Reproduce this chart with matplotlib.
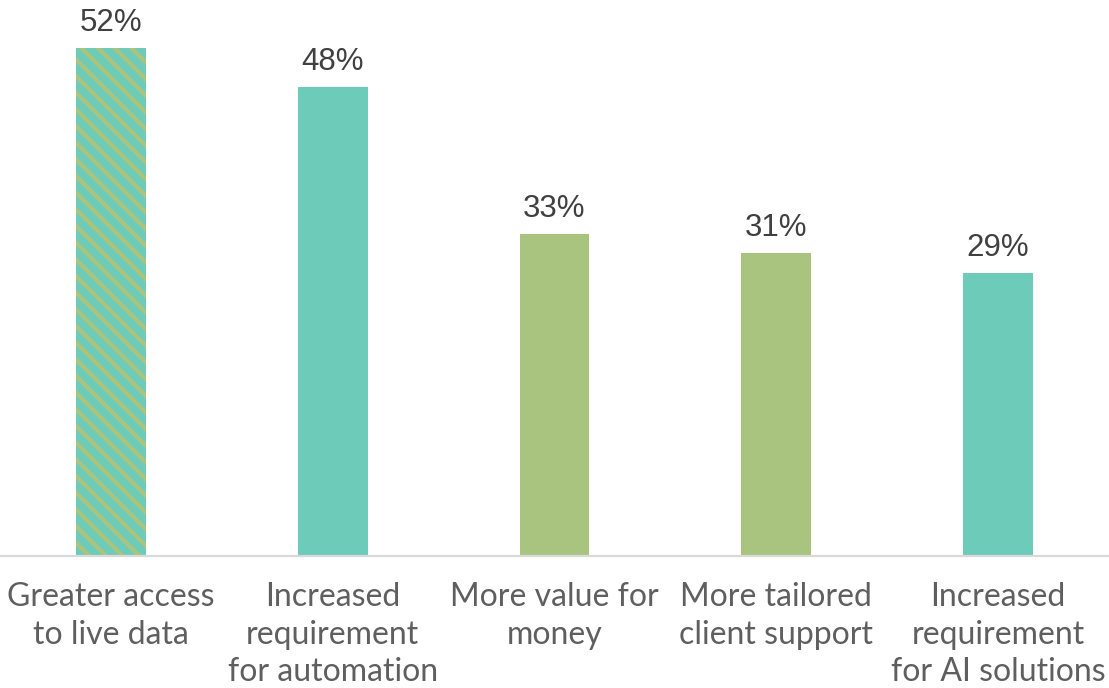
import matplotlib.pyplot as plt
import numpy as np

categories = ["Greater access\nto live data",
              "Increased\nrequirement\nfor automation",
              "More value for\nmoney",
              "More tailored\nclient support",
              "Increased\nrequirement\nfor AI solutions"]
values = [52, 48, 33, 31, 29]
labels = ["52%", "48%", "33%", "31%", "29%"]

teal = "#6ccbb9"
green = "#a9c47f"
bar_colors = [teal, teal, green, green, teal]

plt.rcParams['hatch.linewidth'] = 3.2

fig = plt.figure(figsize=(11.09, 6.88), dpi=100)
ax = fig.add_axes([0, 1 - 556 / 688, 1, 556 / 688])

x = np.arange(len(values))
bars = ax.bar(x, values, width=0.315, color=bar_colors, linewidth=0)
# first bar gets green diagonal stripes over the teal
bars[0].set_hatch("\\\\")
bars[0].set_edgecolor(green)
bars[0].set_linewidth(0)

for xi, v, lab in zip(x, values, labels):
    ax.text(xi, v + 1.0, lab, ha="center", va="bottom", fontsize=22.5,
            color="#404040", family="Liberation Sans")

ax.set_xlim(-0.5, len(values) - 0.5)
ax.set_ylim(0, 56.9)
ax.set_yticks([])
ax.set_xticks(x)
ax.set_xticklabels(categories, fontsize=23, color="#5f5f5f",
                   family="Lato", linespacing=1.3, va="top")
ax.tick_params(axis="x", length=0, pad=19)
for side in ["top", "right", "left"]:
    ax.spines[side].set_visible(False)
ax.spines["bottom"].set_color("#d9d9d9")
ax.spines["bottom"].set_linewidth(1.6)

fig.savefig("out.png", dpi=100)
